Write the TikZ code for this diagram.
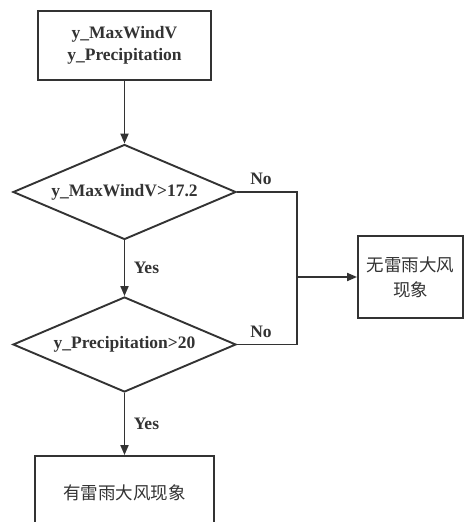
\documentclass[tikz,border=0pt]{standalone}
\usepackage{fontspec}
\setmainfont{Liberation Serif}
\newfontfamily\cjk{Noto Sans CJK SC}
\usetikzlibrary{shapes.geometric,arrows.meta}

\begin{document}
\begin{tikzpicture}[x=1pt, y=-1pt, line width=1.9pt, draw=black!80,
    box/.style={draw=black!80, rectangle, inner sep=0pt, align=center},
    test/.style={draw=black!80, diamond, aspect=2.35, inner sep=0pt, minimum width=223pt, minimum height=95pt},
    flow/.style={-{Triangle[length=10pt,width=8pt]}},
    every node/.style={font=\fontsize{17.5}{22}\selectfont, text=black!80}]
    \useasboundingbox (0,0) rectangle (464,522);
    \node[box, minimum width=173pt, minimum height=69pt, font=\fontsize{17.5}{22}\selectfont\bfseries] (input) at (124.5,45.5) {y\_MaxWindV\\y\_Precipitation};
    \node[test, font=\fontsize{17.5}{22}\selectfont\bfseries] (wind) at (124.5,192) {y\_MaxWindV>17.2};
    \node[test, font=\fontsize{17.5}{22}\selectfont\bfseries] (rain) at (124.5,344.5) {y\_Precipitation>20};
    \node[box, minimum width=105pt, minimum height=82pt, font=\fontsize{17.5}{25}\selectfont\cjk] (calm) at (410.5,277) {无雷雨大风\\现象};
    \node[box, minimum width=179pt, minimum height=74pt, font=\fontsize{17.5}{22}\selectfont\cjk] (storm) at (124.5,493) {有雷雨大风现象};
    \coordinate (merge) at (297,277);
    \draw[flow] (input) -- (wind);
    \draw[flow] (wind) -- node[right=5pt, font=\fontsize{17.5}{22}\selectfont\bfseries] {Yes} (rain);
    \draw[flow] (rain) -- node[right=5pt, font=\fontsize{17.5}{22}\selectfont\bfseries] {Yes} (storm);
    \draw (wind.east) -- node[above=3pt, xshift=-6pt, font=\fontsize{17.5}{22}\selectfont\bfseries] {No} (wind.east -| merge) -- (merge);
    \draw (rain.east) -- node[above=3pt, xshift=-6pt, font=\fontsize{17.5}{22}\selectfont\bfseries] {No} (rain.east -| merge) -- (merge);
    \draw[flow] (merge) -- (calm);
\end{tikzpicture}
\end{document}
